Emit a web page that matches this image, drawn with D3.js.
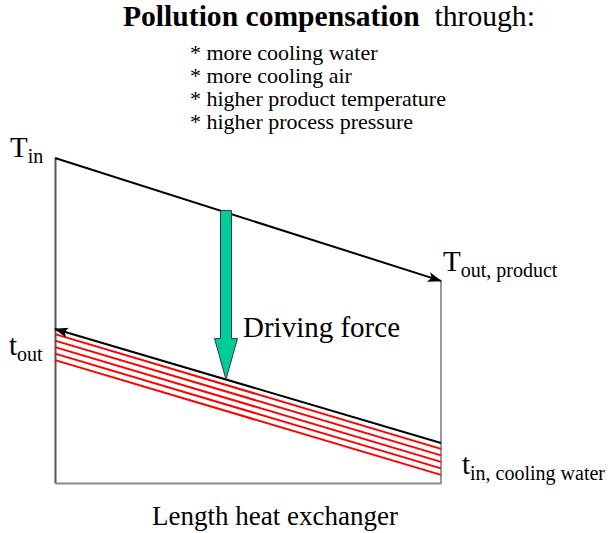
<!DOCTYPE html>
<html>
<head>
<meta charset="utf-8">
<script src="https://cdn.jsdelivr.net/npm/d3@7"></script>
<style>
  body { margin: 0; background: #fff; }
  svg { display: block; }
</style>
</head>
<body>
<svg id="chart" width="608" height="533" font-family="Liberation Serif, Times New Roman, serif"></svg>
<script>
// positions along the exchanger (0 = inlet of product, 1 = outlet)
const positions = [0, 1];
// product temperature (arbitrary units, 0..100)
const productTemp = [100, 62.2];
// cooling water temperature (flows right to left)
const coolantTemp = [47.4, 12.3];
// fouling layers below the coolant line, value at left / right end
const foulingLeft = [45.8, 43.8, 41.8, 39.8, 37.8];
const foulingRight = [10.5, 8.5, 6.5, 4.5, 2.5];
// where the driving force arrow sits
const drivingForceAt = 0.443;

const titleBold = 'Pollution compensation';
const titleRest = ' through:';
const measures = [
  '* more cooling water',
  '* more cooling air',
  '* higher product temperature',
  '* higher process pressure'
];

const svg = d3.select('#chart');

const x = d3.scaleLinear().domain([0, 1]).range([55, 441]);
const y = d3.scaleLinear().domain([0, 100]).range([483, 158]);

const line = d3.line()
  .x(d => x(d[0]))
  .y(d => y(d[1]));

// arrow markers
const defs = svg.append('defs');
defs.append('marker')
  .attr('id', 'head')
  .attr('viewBox', '0 0 14 10')
  .attr('refX', 13)
  .attr('refY', 5)
  .attr('markerWidth', 14)
  .attr('markerHeight', 10)
  .attr('markerUnits', 'userSpaceOnUse')
  .attr('orient', 'auto-start-reverse')
  .append('path')
  .attr('d', 'M0,0 L14,5 L0,10 L3,5 Z')
  .attr('fill', '#000');

// axes (no ticks, only the frame lines)
svg.append('g')
  .attr('transform', `translate(${x(0)},0)`)
  .call(d3.axisLeft(y).ticks(0).tickSizeOuter(0))
  .select('.domain')
  .attr('stroke', '#555')
  .attr('stroke-width', 2);

svg.append('g')
  .attr('transform', `translate(0,${y(0)})`)
  .call(d3.axisBottom(x).ticks(0).tickSizeOuter(0))
  .select('.domain')
  .attr('stroke', '#888')
  .attr('stroke-width', 2);

// right edge
svg.append('line')
  .attr('x1', x(1)).attr('x2', x(1))
  .attr('y1', y(productTemp[1])).attr('y2', y(0))
  .attr('stroke', '#777')
  .attr('stroke-width', 1.5);

// fouling layers
foulingLeft.forEach((v, i) => {
  svg.append('path')
    .attr('d', line([[0, v], [1, foulingRight[i]]]))
    .attr('fill', 'none')
    .attr('stroke', '#ff0000')
    .attr('stroke-width', 2);
});

// product line
svg.append('path')
  .attr('d', line(positions.map((p, i) => [p, productTemp[i]])))
  .attr('fill', 'none')
  .attr('stroke', '#000')
  .attr('stroke-width', 2)
  .attr('marker-end', 'url(#head)');

// cooling water line (arrow at the left end)
svg.append('path')
  .attr('d', line(positions.map((p, i) => [p, coolantTemp[i]])))
  .attr('fill', 'none')
  .attr('stroke', '#000')
  .attr('stroke-width', 2)
  .attr('marker-start', 'url(#head)');

// driving force arrow
const hotAt = d3.interpolate(productTemp[0], productTemp[1])(drivingForceAt);
const coldAt = d3.interpolate(coolantTemp[0], coolantTemp[1])(drivingForceAt);
const ax = x(drivingForceAt);
const arrowTop = y(hotAt) - 2;
const arrowTip = y(coldAt);
const shaftW = 5.5, headW = 11.5, headL = 41;
svg.append('path')
  .attr('d', `M${ax - shaftW},${arrowTop} L${ax + shaftW},${arrowTop} L${ax + shaftW},${arrowTip - headL}
    L${ax + headW},${arrowTip - headL} L${ax},${arrowTip} L${ax - headW},${arrowTip - headL}
    L${ax - shaftW},${arrowTip - headL} Z`)
  .attr('fill', '#00cc99')
  .attr('stroke', '#3a3a3a')
  .attr('stroke-width', 1);

svg.append('text')
  .attr('x', ax + 17)
  .attr('y', 337)
  .attr('font-size', 29)
  .text('Driving force');

// labels
function label(px, py, main, sub, mainSize) {
  const t = svg.append('text')
    .attr('x', px)
    .attr('y', py)
    .attr('font-size', mainSize);
  t.append('tspan').text(main);
  t.append('tspan')
    .attr('font-size', 20)
    .attr('dy', 6)
    .text(sub);
}
label(10, 157, 'T', 'in', 29);
label(443, 271, 'T', 'out, product', 29);
label(9, 355, 't', 'out', 29);
label(462, 474, 't', 'in, cooling water', 29);

svg.append('text')
  .attr('x', 152)
  .attr('y', 525)
  .attr('font-size', 27)
  .text('Length heat exchanger');

// title
const title = svg.append('text')
  .attr('x', 123)
  .attr('y', 26)
  .attr('font-size', 29.6);
title.append('tspan').attr('font-weight', 'bold').text(titleBold);
title.append('tspan').text('\u00a0' + titleRest);

svg.append('g')
  .selectAll('text')
  .data(measures)
  .join('text')
  .attr('x', 190)
  .attr('y', (d, i) => 60 + i * 23)
  .attr('font-size', 22)
  .text(d => d);
</script>
</body>
</html>
